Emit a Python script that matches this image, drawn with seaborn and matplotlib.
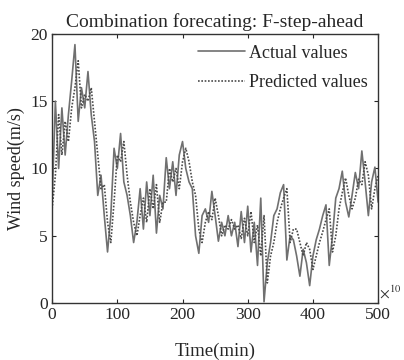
import numpy as np
import pandas as pd
import matplotlib
matplotlib.use("Agg")
import matplotlib.pyplot as plt
import seaborn as sns

time_min = list(range(0, 501, 5))
actual = [7.5, 15.0, 10.0, 14.5, 11.0, 14.0, 16.5, 19.2, 13.5, 16.0,
          14.5, 17.2, 14.0, 12.0, 8.0, 9.5, 6.5, 3.8, 6.5, 11.5,
          10.0, 12.6, 9.0, 8.0, 6.5, 4.5, 6.0, 8.5, 5.5, 9.0,
          6.5, 9.5, 5.2, 8.0, 7.0, 10.8, 8.5, 10.5, 8.0, 11.0,
          12.0, 10.0, 9.0, 8.5, 5.0, 3.7, 6.5, 7.0, 6.0, 8.3,
          6.5, 4.6, 6.0, 5.0, 6.5, 5.0, 6.0, 4.2, 6.8, 4.5,
          7.2, 3.8, 6.0, 2.8, 7.8, 0.1, 3.0, 4.5, 6.5, 7.0,
          8.2, 8.8, 3.2, 5.0, 4.7, 3.5, 2.0, 4.0, 3.0, 1.3,
          3.5, 4.7, 5.5, 6.5, 7.3, 2.8, 5.0, 7.8, 8.5, 9.8,
          7.5, 6.4, 8.0, 9.7, 8.5, 11.3, 9.0, 6.5, 9.0, 10.1,
          7.5]
predicted = [7.0, 9.5, 14.0, 11.0, 13.5, 12.0, 14.5, 16.0, 18.0, 14.5,
             15.5, 15.0, 16.0, 13.5, 11.0, 8.5, 8.8, 6.0, 4.5, 7.5,
             11.0, 10.5, 12.0, 9.5, 7.5, 6.0, 5.0, 6.5, 7.8, 6.0,
             8.5, 7.0, 8.8, 6.0, 7.5, 7.5, 10.0, 9.0, 10.0, 8.5,
             10.5, 11.5, 10.5, 9.0, 8.0, 5.5, 4.5, 6.0, 6.8, 6.2,
             7.8, 6.5, 5.0, 5.8, 5.5, 6.2, 5.5, 5.8, 4.8, 6.3,
             5.0, 6.8, 4.5, 5.8, 3.5, 6.5, 1.5, 3.5, 4.5, 6.0,
             7.0, 7.8, 8.5, 4.5, 5.5, 5.5, 4.5, 3.5, 4.5, 4.0,
             2.5, 3.5, 4.5, 5.3, 6.2, 7.0, 3.8, 5.0, 7.0, 8.2,
             9.3, 8.0, 7.0, 7.8, 9.2, 8.8, 10.5, 9.5, 7.0, 8.5,
             9.5]
series_labels = ["Actual values", "Predicted values"]
x_ticks = [0, 100, 200, 300, 400, 500]
y_ticks = [0, 5, 10, 15, 20]

sns.set_style("ticks")
plt.rcParams["font.family"] = ["Liberation Serif", "DejaVu Serif"]
plt.rcParams["mathtext.fontset"] = "stix"

df = pd.DataFrame({
    "t": time_min * 2,
    "v": actual + predicted,
    "s": [series_labels[0]] * len(actual) + [series_labels[1]] * len(predicted),
})

fig = plt.figure(figsize=(4.04, 3.6), dpi=100)
ax = fig.add_axes([0.129, 0.158, 0.807, 0.748])

sns.lineplot(data=df, x="t", y="v", hue="s", style="s",
             palette={series_labels[0]: "#707070", series_labels[1]: "#4a4a4a"},
             dashes={series_labels[0]: "", series_labels[1]: (1, 1)},
             linewidth=1.2, ax=ax, legend=True)

ax.set_xlim(0, 500)
ax.set_ylim(0, 20)
ax.set_xticks(x_ticks)
ax.set_yticks(y_ticks)
ax.tick_params(direction="in", top=True, right=True, labelsize=12.5, length=3, pad=3)
for s in ax.spines.values():
    s.set_visible(True)
    s.set_linewidth(1.0)
    s.set_color("#333333")

ax.set_title("Combination forecating: F-step-ahead", fontsize=14, pad=5)
ax.set_xlabel("Time(min)", fontsize=13.5, labelpad=14)
ax.set_ylabel("Wind speed(m/s)", fontsize=13, labelpad=4)
ax.text(1.003, 0.005, r"$\times^{10}$", transform=ax.transAxes, fontsize=11,
        ha="left", va="bottom", color="#333333")

leg = ax.legend(loc="upper right", frameon=False, fontsize=13,
                handlelength=2.6, handletextpad=0.2, labelspacing=0.7,
                borderaxespad=0.2)
for h in leg.get_lines():
    h.set_linewidth(1.2)

fig.savefig("out.png", dpi=100)
